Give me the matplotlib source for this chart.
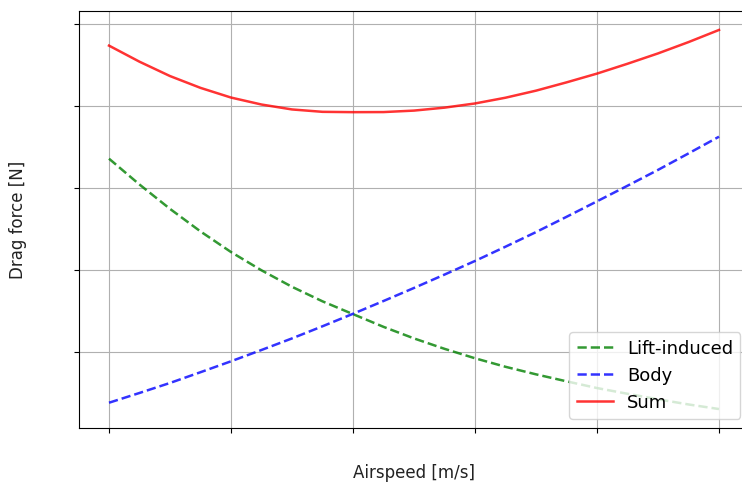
import numpy as np
from matplotlib import pyplot as plt

# airspeed samples (tick labels are hidden in the original)
airspeed = [10, 11.25, 12.5, 13.75, 15, 16.25, 17.5, 18.75, 20, 21.25, 22.5,
            23.75, 25, 26.25, 27.5, 28.75, 30, 31.25, 32.5, 33.75, 35]
lift_induced = [4.353, 4.038, 3.741, 3.466, 3.215, 2.992, 2.791, 2.614, 2.458, 2.303, 2.162,
                2.035, 1.920, 1.816, 1.724, 1.639, 1.557, 1.487, 1.420, 1.357, 1.301]
body = [1.378, 1.497, 1.619, 1.750, 1.883, 2.021, 2.162, 2.310, 2.462, 2.618, 2.777,
        2.940, 3.106, 3.280, 3.458, 3.644, 3.833, 4.023, 4.216, 4.417, 4.621]

total = np.array(lift_induced) + np.array(body)

fig = plt.figure(figsize=(7.42, 4.84), dpi=100)
ax = fig.add_axes([78.5 / 742, 56 / 484, 671 / 742, 417 / 484])

ax.plot(airspeed, lift_induced, 'g--', alpha=0.8, lw=1.8, label='Lift-induced')
ax.plot(airspeed, body, 'b--', alpha=0.8, lw=1.8, label='Body')
ax.plot(airspeed, total, 'r-', alpha=0.8, lw=1.8, label='Sum')

ax.grid(True)
ax.set_xticklabels([])
ax.set_yticklabels([])
ax.set_xlabel('Airspeed [m/s]', fontsize=12, labelpad=19, color='#222222')
ax.set_ylabel('Drag force [N]', fontsize=12, labelpad=30, color='#222222')
ax.legend(loc='lower right', fontsize=13)

plt.savefig('out.png', dpi=100)
